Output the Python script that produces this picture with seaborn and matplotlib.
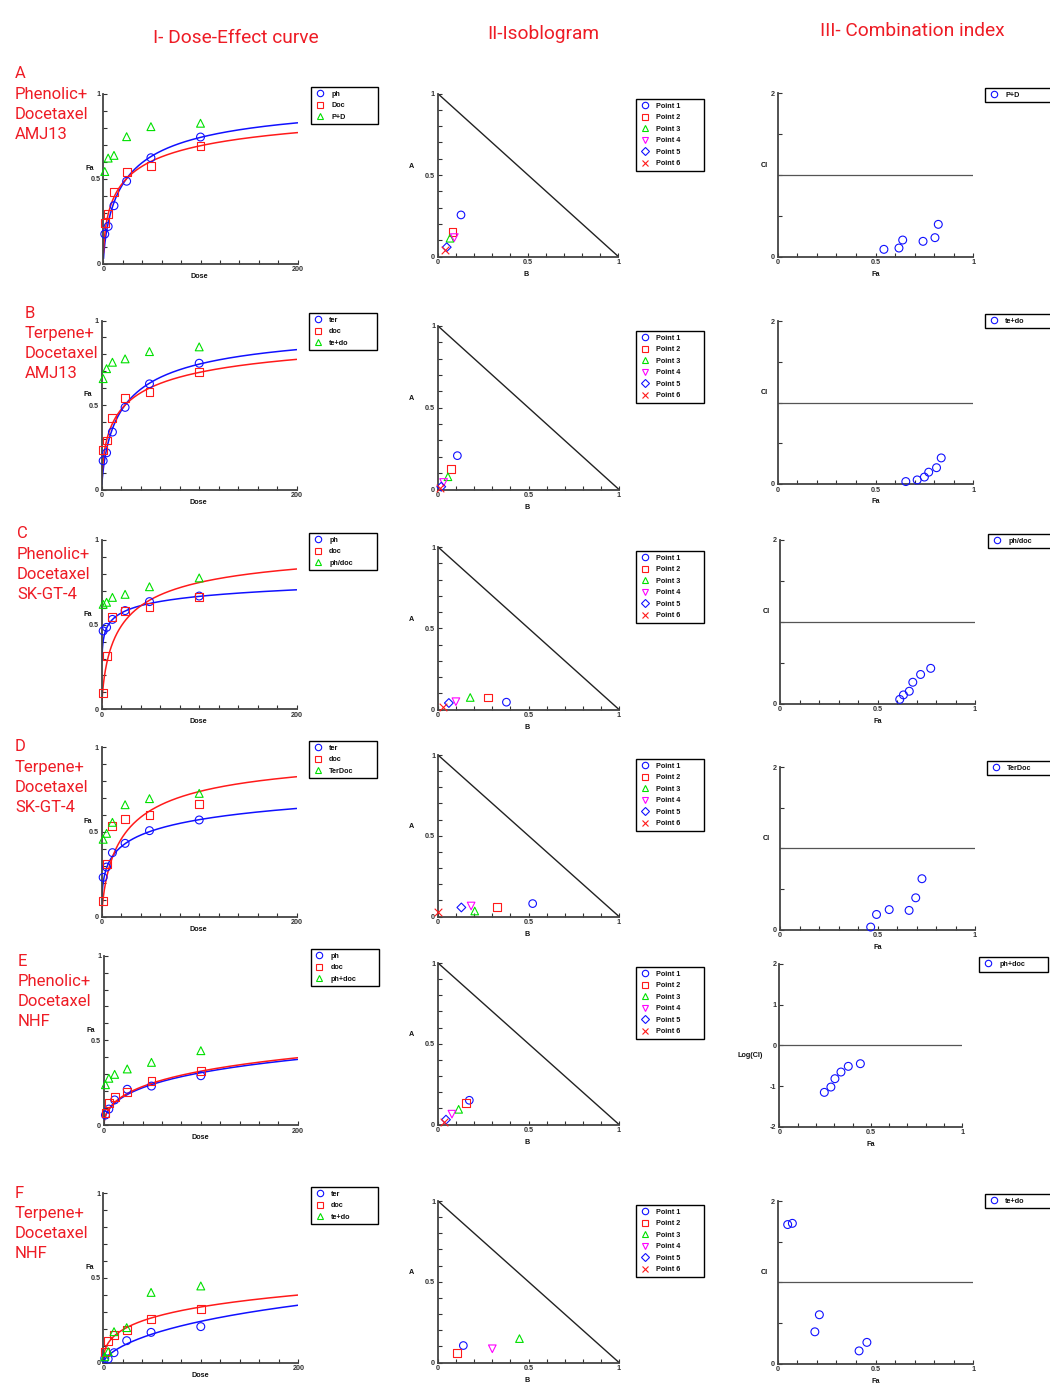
import numpy as np
import matplotlib
matplotlib.use("Agg")
import matplotlib.pyplot as plt
from matplotlib.lines import Line2D
import seaborn as sns

# ---- data ----
rows = ["A", "B", "C", "D", "E", "F"]
row_text = [
    ["A", "Phenolic+", "Docetaxel", "AMJ13"],
    ["B", "Terpene+", "Docetaxel", "AMJ13"],
    ["C", "Phenolic+", "Docetaxel", "SK-GT-4"],
    ["D", "Terpene+", "Docetaxel", "SK-GT-4"],
    ["E", "Phenolic+", "Docetaxel", "NHF"],
    ["F", "Terpene+", "Docetaxel", "NHF"],
]
drug1_labels = ["ph", "ter", "ph", "ter", "ph", "ter"]
drug2_labels = ["Doc", "doc", "doc", "doc", "doc", "doc"]
mix_labels = ["P+D", "te+do", "ph/doc", "TerDoc", "ph+doc", "te+do"]
ci_labels = ["P+D", "te+do", "ph/doc", "TerDoc", "ph+doc", "te+do"]

doses = [1.5, 5, 11, 24, 49, 100]

fa_drug1 = [
    [0.173, 0.218, 0.34, 0.484, 0.622, 0.744],
    [0.17, 0.217, 0.34, 0.486, 0.625, 0.747],
    [0.463, 0.484, 0.531, 0.583, 0.636, 0.669],
    [0.232, 0.293, 0.378, 0.433, 0.508, 0.571],
    [0.059, 0.094, 0.148, 0.211, 0.23, 0.291],
    [0.025, 0.022, 0.059, 0.13, 0.179, 0.213],
]
fa_drug2 = [
    [0.236, 0.289, 0.419, 0.539, 0.575, 0.693],
    [0.235, 0.29, 0.423, 0.541, 0.575, 0.696],
    [0.094, 0.315, 0.543, 0.583, 0.602, 0.665],
    [0.093, 0.309, 0.537, 0.577, 0.6, 0.663],
    [0.069, 0.128, 0.167, 0.197, 0.26, 0.321],
    [0.061, 0.126, 0.161, 0.193, 0.258, 0.315],
]
fa_mix = [
    [0.541, 0.62, 0.636, 0.746, 0.805, 0.825],
    [0.656, 0.715, 0.753, 0.773, 0.816, 0.844],
    [0.62, 0.632, 0.661, 0.679, 0.724, 0.776],
    [0.457, 0.492, 0.557, 0.661, 0.697, 0.728],
    [0.238, 0.276, 0.299, 0.331, 0.37, 0.439],
    [0.035, 0.065, 0.183, 0.207, 0.415, 0.453],
]
# median-effect fit parameters (Dm, m) of the single-drug curves
dm_drug1 = [24, 24, 6.9, 48, 500, 540]
m_drug1 = [0.74, 0.74, 0.26, 0.40, 0.50, 0.67]
dm_drug2 = [24, 24, 21, 25, 460, 505]
m_drug2 = [0.57, 0.57, 0.70, 0.75, 0.50, 0.44]

iso_labels = ["Point 1", "Point 2", "Point 3", "Point 4", "Point 5", "Point 6"]
iso_b = [
    [0.129, 0.081, 0.068, 0.092, 0.05, 0.041],
    [0.107, 0.072, 0.055, 0.031, 0.018, 0.009],
    [0.378, 0.277, 0.178, 0.099, 0.06, 0.025],
    [0.523, 0.327, 0.203, 0.183, 0.129, 0.0],
    [0.173, 0.155, 0.114, 0.077, 0.044, 0.031],
    [0.14, 0.105, 0.45, 0.30, np.nan, np.nan],
]
iso_a = [
    [0.255, 0.149, 0.112, 0.116, 0.057, 0.037],
    [0.207, 0.125, 0.078, 0.043, 0.017, 0.009],
    [0.045, 0.074, 0.074, 0.048, 0.04, 0.018],
    [0.08, 0.06, 0.034, 0.065, 0.056, 0.028],
    [0.15, 0.133, 0.094, 0.064, 0.03, 0.017],
    [0.105, 0.06, 0.148, 0.085, np.nan, np.nan],
]

ci_fa = [
    [0.543, 0.62, 0.639, 0.743, 0.804, 0.821],
    [0.655, 0.713, 0.75, 0.772, 0.812, 0.836],
    [0.614, 0.633, 0.663, 0.681, 0.721, 0.773],
    [0.465, 0.495, 0.56, 0.662, 0.696, 0.728],
    [0.246, 0.282, 0.304, 0.337, 0.377, 0.443],
    [0.051, 0.075, 0.19, 0.213, 0.416, 0.456],
]
ci_val = [
    [0.09, 0.106, 0.204, 0.188, 0.233, 0.396],
    [0.03, 0.05, 0.085, 0.145, 0.2, 0.32],
    [0.05, 0.105, 0.15, 0.26, 0.355, 0.43],
    [0.03, 0.185, 0.245, 0.235, 0.39, 0.625],
    [-1.156, -1.025, -0.82, -0.656, -0.516, -0.451],
    [1.71, 1.725, 0.39, 0.6, 0.155, 0.26],
]
ci_is_log = [False, False, False, False, True, False]

# ---- layout (pixel boxes: x0, top, x1, bottom) ----
W, H = 1050, 1384
dose_box = [(103.3, 93.5, 297.7, 263.5), (101.7, 320.5, 296.7, 489.5),
            (101.7, 540, 296.7, 709.3), (101.7, 747.3, 296.7, 916.7),
            (104, 955.7, 297.7, 1125), (103.3, 1193.3, 298.3, 1362.7)]
iso_box = [(437.7, 93.5, 618.3, 256.5), (438, 326, 619, 489.5),
           (438, 547, 619, 709.5), (438, 755, 619, 916.5),
           (438, 963, 619, 1124.5), (438, 1201, 619, 1362.5)]
ci_box = [(777.7, 93.3, 973.3, 256.7), (777.7, 321, 973.3, 484),
          (780, 540, 975, 703.5), (780, 767, 975, 929.5),
          (779.3, 964, 962.3, 1126.7), (777.7, 1201, 973.3, 1363.5)]
dose_leg = [(311, 87, 378), (309, 313, 377), (309, 533, 377),
            (309, 741, 377), (310.5, 949, 379), (311, 1187, 378)]
iso_leg = [(636, 99, 704), (636, 331, 704), (636, 551, 704),
           (636, 759, 704), (636, 967, 704), (636, 1205, 704)]
ci_leg = [(985, 88, 1075), (985, 314, 1075), (988, 534, 1075),
          (987, 761, 1075), (979.3, 957.3, 1048.3), (985, 1194, 1075)]
row_xy = [(15, 74), (25, 313), (17, 534), (15, 747), (18, 961), (15, 1193)]

RED_TXT = "#ee1c25"
BLUE, RED, GREEN, MAG = "#1010ff", "#ff1a1a", "#00e000", "#ff00ff"
iso_markers = ["o", "s", "^", "v", "D", "x"]
iso_colors = [BLUE, RED, GREEN, MAG, BLUE, RED]
SMALL = 5.2

sns.set_theme(style="white")
plt.rcParams['font.family'] = ['Liberation Sans', 'DejaVu Sans']
TITLE_FONT = ['Roboto', 'DejaVu Sans']

fig = plt.figure(figsize=(W / 100, H / 100), dpi=100)
fig.patch.set_facecolor("white")


def place(box):
    x0, top, x1, bottom = box
    return fig.add_axes([x0 / W, 1 - bottom / H, (x1 - x0) / W, (bottom - top) / H])


def tick_text(ticks, shown):
    return [f"{t:g}" if any(abs(t - s) < 1e-9 for s in shown) else "" for t in ticks]


def style(ax, xlim, ylim, xticks, xshown, yticks, yshown):
    ax.set_xlim(*xlim)
    ax.set_ylim(*ylim)
    ax.set_xticks(xticks)
    ax.set_yticks(yticks)
    ax.set_xticklabels(tick_text(xticks, xshown), fontsize=SMALL, fontweight="bold")
    ax.set_yticklabels(tick_text(yticks, yshown), fontsize=SMALL, fontweight="bold")
    ax.tick_params(direction="in", length=3, width=0.8, colors="#333", pad=2,
                   bottom=True, left=True)
    for side in ("top", "right"):
        ax.spines[side].set_visible(False)
    for side in ("left", "bottom"):
        ax.spines[side].set_color("#444")
        ax.spines[side].set_linewidth(1.3)
    ax.set_xlabel("")
    ax.set_ylabel("")
    ax.set_facecolor("none")


def pts(ax, x, y, marker, color, s=32):
    kw = dict(marker=marker, s=s, linewidth=0.8, clip_on=False, zorder=3, legend=False, ax=ax)
    if marker == "x":
        sns.scatterplot(x=x, y=y, color=color, edgecolor=None, **kw)
    else:
        sns.scatterplot(x=x, y=y, color=color, facecolor="none", edgecolor=color, **kw)


def legend(ax, spec, markers, colors, labels, sizes=None):
    x0, top, x1 = spec
    handles = []
    for i, (mk, c) in enumerate(zip(markers, colors)):
        ms = 4.6 if sizes is None else sizes[i]
        handles.append(Line2D([], [], marker=mk, linestyle="none", markersize=ms,
                              markerfacecolor="none", markeredgecolor=c, color=c,
                              markeredgewidth=0.8))
    leg = ax.legend(handles, labels, loc="upper left", mode="expand",
                    bbox_to_anchor=(x0 / W, 0, (x1 - x0) / W, 1 - top / H),
                    bbox_transform=fig.transFigure, borderaxespad=0,
                    prop={"size": SMALL, "weight": "bold"}, frameon=True, fancybox=False,
                    framealpha=1, edgecolor="black", handlelength=1.4,
                    handletextpad=0.9, labelspacing=0.62, borderpad=0.5)
    leg.get_frame().set_linewidth(1.0)
    for t in leg.get_texts():
        t.set_color("#111")


def small_label(ax, x, y, s):
    ax.text(x, y, s, transform=ax.transAxes, ha="center", va="center",
            fontsize=SMALL, fontweight="bold", color="#111")


# column headers
fig.text(236 / W, 1 - 38 / H, "I- Dose-Effect curve", ha="center", va="center",
         color=RED_TXT, fontsize=13.8, family=TITLE_FONT)
fig.text(543 / W, 1 - 34 / H, "II-Isoblogram", ha="center", va="center",
         color=RED_TXT, fontsize=13.8, family=TITLE_FONT)
fig.text(912 / W, 1 - 31 / H, "III- Combination index", ha="center", va="center",
         color=RED_TXT, fontsize=13.8, family=TITLE_FONT)

curve_x = np.linspace(0.2, 200, 400)

for r in range(len(rows)):
    # row caption
    tx, ty = row_xy[r]
    for j, line in enumerate(row_text[r]):
        fig.text(tx / W, 1 - (ty + 20.3 * j) / H, line, ha="left", va="center",
                 color=RED_TXT, fontsize=12, family=TITLE_FONT)

    # I - dose-effect
    ax = place(dose_box[r])
    c1 = 1 / (1 + (dm_drug1[r] / curve_x) ** m_drug1[r])
    c2 = 1 / (1 + (dm_drug2[r] / curve_x) ** m_drug2[r])
    sns.lineplot(x=curve_x, y=c1, color=BLUE, linewidth=1.1, ax=ax, legend=False)
    sns.lineplot(x=curve_x, y=c2, color=RED, linewidth=1.1, ax=ax, legend=False)
    pts(ax, doses, fa_drug1[r], "o", BLUE)
    pts(ax, doses, fa_drug2[r], "s", RED)
    pts(ax, doses, fa_mix[r], "^", GREEN)
    style(ax, (0, 200), (0, 1), np.arange(0, 201, 20), [0, 200],
          np.round(np.arange(0, 1.01, 0.1), 1), [0, 0.5, 1])
    small_label(ax, -0.07, 0.56, "Fa")
    small_label(ax, 0.495, -0.075, "Dose")
    legend(ax, dose_leg[r], ["o", "s", "^"], [BLUE, RED, GREEN],
           [drug1_labels[r], drug2_labels[r], mix_labels[r]])

    # II - isobologram
    ax = place(iso_box[r])
    sns.lineplot(x=[0, 1], y=[1, 0], color="#222", linewidth=1.0, ax=ax, legend=False)
    for k in range(6):
        b, a = iso_b[r][k], iso_a[r][k]
        if np.isnan(b):
            continue
        s = 20 if iso_markers[k] == "D" else 30
        pts(ax, [b], [a], iso_markers[k], iso_colors[k], s=s)
    ticks = np.round(np.arange(0, 1.01, 0.1), 1)
    style(ax, (0, 1), (0, 1), ticks, [0, 0.5, 1], ticks, [0, 0.5, 1])
    small_label(ax, -0.145, 0.555, "A")
    small_label(ax, 0.49, -0.11, "B")
    legend(ax, iso_leg[r], iso_markers, iso_colors, iso_labels,
           sizes=[4.6, 4.6, 4.6, 4.6, 3.8, 4.6])

    # III - combination index
    ax = place(ci_box[r])
    if ci_is_log[r]:
        ax.axhline(0, color="#555", linewidth=0.9)
        yt, ys, ylab, yl = [-2, -1, 0, 1, 2], [-2, -1, 0, 1, 2], "Log(CI)", (-2, 2)
    else:
        ax.axhline(1, color="#555", linewidth=0.9)
        yt, ys, ylab, yl = [0, 0.5, 1, 1.5, 2], [0, 2], "CI", (0, 2)
    pts(ax, ci_fa[r], ci_val[r], "o", BLUE)
    style(ax, (0, 1), yl, np.round(np.arange(0, 1.01, 0.1), 1), [0, 0.5, 1], yt, ys)
    if ci_is_log[r]:
        small_label(ax, -0.16, 0.44, ylab)
    else:
        small_label(ax, -0.07, 0.56, ylab)
    small_label(ax, 0.5, -0.11, "Fa")
    legend(ax, ci_leg[r], ["o"], [BLUE], [ci_labels[r]])

fig.savefig("out.png", dpi=100, facecolor="white")
